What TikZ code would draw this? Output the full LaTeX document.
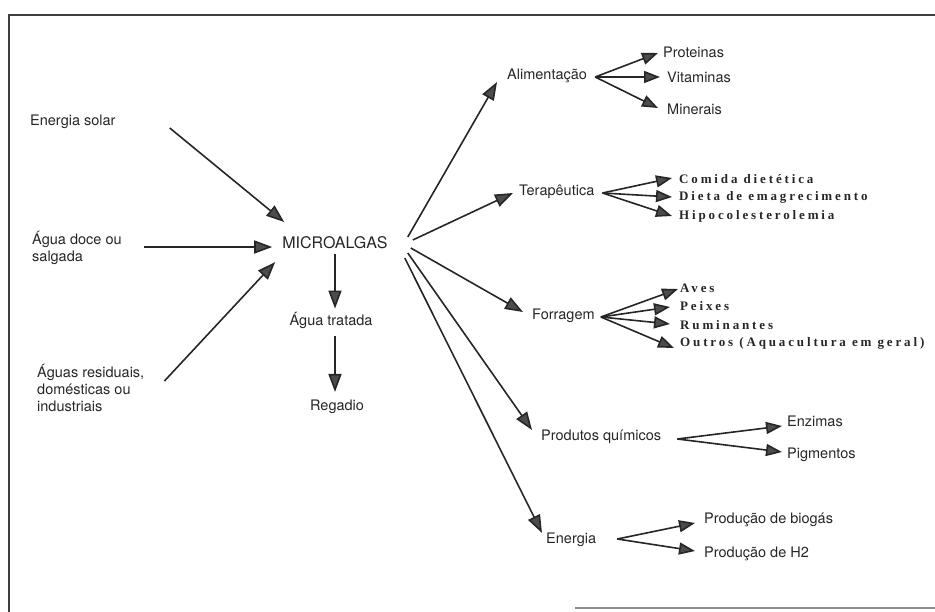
\documentclass[tikz,border=0pt]{standalone}
\usepackage{fontspec}
\setmainfont{TeX Gyre Heros}
\newfontfamily\spacedserif[LetterSpace=22]{Liberation Serif Bold}
\usetikzlibrary{arrows.meta}

\begin{document}
\begin{tikzpicture}[x=1pt,y=-1pt,
  font=\fontsize{14.5}{17}\selectfont,color=black!85,
  lbl/.style={inner sep=0pt,anchor=west,align=left},
  seriflbl/.style={lbl,font=\fontsize{13}{15}\selectfont\spacedserif},
  arr/.style={line width=1.6pt,black!85,-{Triangle[length=18pt,width=13pt,fill=black!70]}},
  fanarr/.style={arr,-{Triangle[length=16pt,width=12pt,fill=black!70]}}]
\useasboundingbox (0,0) rectangle (935,612);
% frame of the scanned page
\draw[line width=1.4pt,black!75] (9,612) -- (9,15) -- (935,15);
\draw[line width=1.2pt,black!45] (575,608) -- (935,608);

% inputs
\node[lbl] (solar) at (30,122) {Energia solar};
\node[lbl] (doce) at (32,248) {Água doce ou\\salgada};
\node[lbl] (resid) at (37,388) {Águas residuais,\\domésticas ou\\industriais};
\node[inner sep=0pt,font=\fontsize{16}{18}\selectfont] (micro) at (335,243) {MICROALGAS};
\node[inner sep=0pt] (tratada) at (331,320) {Água tratada};
\node[inner sep=0pt] (regadio) at (337,407) {Regadio};

% uses
\node[lbl] (alim) at (507,76) {Alimentação};
\node[lbl] (prot) at (663,52) {Proteinas};
\node[lbl] (vit) at (667,77) {Vitaminas};
\node[lbl] (miner) at (667,109) {Minerais};
\node[lbl] (terap) at (519,192) {Terapêutica};
\node[seriflbl] (comida) at (679,179) {Comida dietética};
\node[seriflbl] (dieta) at (679,197) {Dieta de emagrecimento};
\node[seriflbl] (hipo) at (679,216) {Hipocolesterolemia};
\node[lbl] (forr) at (532,316) {Forragem};
\node[seriflbl] (aves) at (680,288) {Aves};
\node[seriflbl] (peixes) at (680,306) {Peixes};
\node[seriflbl] (rumin) at (680,325) {Ruminantes};
\node[seriflbl] (outros) at (680,343) {Outros (Aquacultura em geral)};
\node[lbl] (prodq) at (541,437) {Produtos químicos};
\node[lbl] (enz) at (787,421) {Enzimas};
\node[lbl] (pigm) at (787,455) {Pigmentos};
\node[lbl] (energia) at (546,540) {Energia};
\node[lbl] (biog) at (704,520) {Produção de biogás};
\node[lbl] (htwo) at (704,554) {Produção de H2};

% into the algae
\draw[arr] ([shift={(54,6)}]solar.east) -- ([shift={(2,-21)}]micro.west);
\draw[arr] ([shift={(22,-1)}]doce.east) -- ([shift={(-10,4)}]micro.west);
\draw[arr] ([shift={(20,-7)}]resid.east) -- ([shift={(-7,19)}]micro.west);
\draw[arr] ([shift={(0,5)}]micro.south) -- ([shift={(4,-3)}]tratada.north);
\draw[arr] ([shift={(4,8)}]tratada.south) -- ([shift={(-2,-8)}]regadio.north);

% out of the algae
\draw[arr] ([shift={(20,-6)}]micro.east) -- ([shift={(-10,6)}]alim.west);
\draw[arr] ([shift={(25,-3)}]micro.east) -- ([shift={(-6,1)}]terap.west);
\draw[arr] ([shift={(23,5)}]micro.east) -- ([shift={(-9,-4)}]forr.west);
\draw[arr] ([shift={(20,10)}]micro.east) -- ([shift={(-9,-7)}]prodq.west);
\draw[arr] ([shift={(17,15)}]micro.east) -- ([shift={(-4,-7)}]energia.west);

% fans
\coordinate (alimR) at ([shift={(8,1)}]alim.east);
\draw[fanarr] (alimR) -- ([shift={(-5,1)}]prot.west);
\draw[fanarr] (alimR) -- ([shift={(-7,0)}]vit.west);
\draw[fanarr] (alimR) -- ([shift={(-9,-1)}]miner.west);
\coordinate (terapR) at ([shift={(8,1)}]terap.east);
\draw[fanarr] (terapR) -- ([shift={(-7,-1)}]comida.west);
\draw[fanarr] (terapR) -- ([shift={(-7,0)}]dieta.west);
\draw[fanarr] (terapR) -- ([shift={(-7,0)}]hipo.west);
\coordinate (forrR) at ([shift={(6,1)}]forr.east);
\draw[fanarr] (forrR) -- ([shift={(-2,1)}]aves.west);
\draw[fanarr] (forrR) -- ([shift={(-10,1)}]peixes.west);
\draw[fanarr] (forrR) -- ([shift={(-10,-1)}]rumin.west);
\draw[fanarr] (forrR) -- ([shift={(-6,5)}]outros.west);
\coordinate (prodqR) at ([shift={(16,2)}]prodq.east);
\draw[fanarr] (prodqR) -- ([shift={(-5,5)}]enz.west);
\draw[fanarr] (prodqR) -- ([shift={(-5,-3)}]pigm.west);
\coordinate (energiaR) at ([shift={(21,-1)}]energia.east);
\draw[fanarr] (energiaR) -- ([shift={(-9,3)}]biog.west);
\draw[fanarr] (energiaR) -- ([shift={(-9,-3)}]htwo.west);
\end{tikzpicture}
\end{document}
